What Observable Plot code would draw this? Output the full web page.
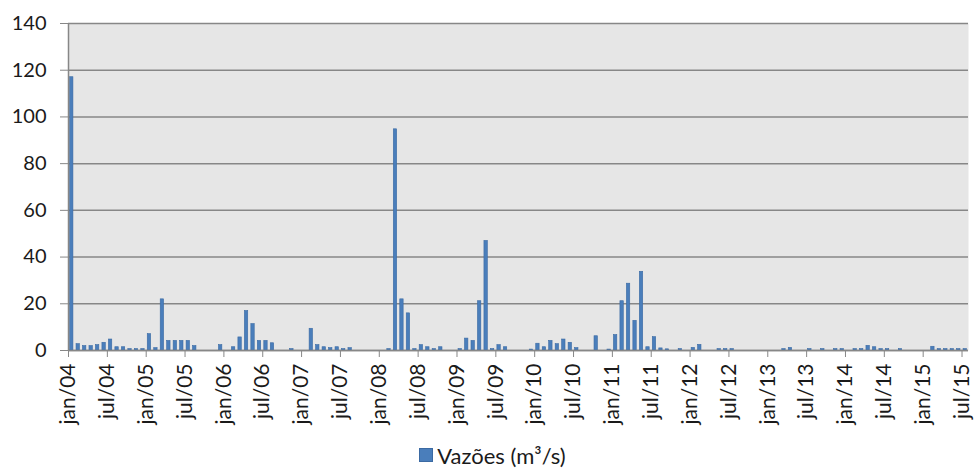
<!DOCTYPE html>
<html>
<head>
<meta charset="utf-8">
<script src="https://cdn.jsdelivr.net/npm/d3@7"></script>
<script src="https://cdn.jsdelivr.net/npm/@observablehq/plot@0.6"></script>
<style>
  body { margin: 0; background: #fff; font-family: Lato, "Open Sans", sans-serif; }
  #chart svg { display: block; }
  #legend { height: 30px; display: flex; justify-content: center; align-items: center; font-size: 22px; color: #1a1a1a; padding-left: 6px; }
  #legend .sw { width: 12px; height: 12px; background: #4a7ebb; border: 1px solid #3b6aa3; margin-right: 4px; }
</style>
</head>
<body>
<div id="chart"></div>
<div id="legend"><span class="sw"></span><span id="legtext"></span></div>
<script>
// Monthly flow, jan/2004 .. jul/2015 (one value per month)
const values = [
  117, 2.7, 1.9, 1.9, 2.3, 3.3, 4.7, 1.4, 1.4, 0.6, 0.6, 0.6,      // 2004
  7.0, 1.0, 21.9, 4.1, 4.1, 4.1, 4.1, 1.9, 0, 0, 0, 2.3,           // 2005
  0, 1.4, 5.6, 16.9, 11.3, 4.1, 4.1, 3.1, 0, 0, 0.6, 0,            // 2006
  0, 9.3, 2.3, 1.4, 1.0, 1.4, 0.6, 1.0, 0, 0, 0, 0,                // 2007
  0, 0.6, 94.7, 21.9, 15.9, 0.6, 2.3, 1.4, 0.6, 1.4, 0, 0,         // 2008
  0.6, 5.1, 4.1, 21.1, 46.9, 0.6, 2.3, 1.4, 0, 0, 0, 0.4,          // 2009
  2.9, 1.4, 4.1, 2.7, 4.7, 3.3, 1.0, 0, 0, 6.1, 0, 0.4,            // 2010
  6.6, 21.1, 28.6, 12.7, 33.7, 1.4, 5.7, 0.9, 0.5, 0, 0.6, 0,      // 2011
  1.1, 2.4, 0, 0, 0.6, 0.6, 0.6, 0, 0, 0, 0, 0,                    // 2012
  0, 0, 0.6, 1.1, 0, 0, 0.6, 0, 0.6, 0, 0.6, 0.6,                  // 2013
  0, 0.6, 0.6, 2.0, 1.4, 0.6, 0.6, 0, 0.6, 0, 0, 0,                // 2014
  0, 1.6, 0.6, 0.6, 0.6, 0.6, 0.6                                  // 2015
];
const tickLabels = [
  "jan/04","jul/04","jan/05","jul/05","jan/06","jul/06","jan/07","jul/07",
  "jan/08","jul/08","jan/09","jul/09","jan/10","jul/10","jan/11","jul/11",
  "jan/12","jul/12","jan/13","jul/13","jan/14","jul/14","jan/15","jul/15"
];
const yTicks = [0, 20, 40, 60, 80, 100, 120, 140];
const seriesName = "Vazões (m³/s)";

const data = values.map((v, i) => ({i, v})).filter(d => d.v > 0);
const xTicks = tickLabels.map((_, k) => k * 6);

const chart = Plot.plot({
  width: 979,
  height: 440,
  marginTop: 23,
  marginBottom: 90,
  marginLeft: 68,
  marginRight: 11,
  style: { fontFamily: "Lato, 'Open Sans', sans-serif", fontSize: "20px", color: "#1a1a1a", background: "#fff" },
  x: { type: "linear", domain: [0, values.length], axis: null },
  y: { domain: [0, 140], axis: null },
  marks: [
    Plot.frame({ fill: "#e6e6e6", stroke: "none" }),
    Plot.gridY(yTicks, { stroke: "#878787", strokeOpacity: 1, strokeWidth: 1.5 }),
    Plot.rect(data, {
      x1: d => d.i + 0.24, x2: d => d.i + 0.76, y1: 0, y2: "v",
      fill: "#4a7ebb", stroke: "#3b6aa3", strokeWidth: 0.6
    }),
    Plot.ruleX([0], { stroke: "#878787", strokeWidth: 1.5 }),
    Plot.ruleY([0], { stroke: "#878787", strokeWidth: 1.5 }),
    Plot.axisY(yTicks, { label: null, tickSize: 8, tickPadding: 14, stroke: "#878787", fill: "#1a1a1a", fontSize: 20 }),
    Plot.axisX(xTicks, {
      label: null,
      tickFormat: d => tickLabels[d / 6], tickRotate: -90,
      tickSize: 7, tickPadding: 6, stroke: "#878787", fill: "#1a1a1a", fontSize: 21
    })
  ]
});
document.getElementById("chart").append(chart);
document.getElementById("legtext").textContent = seriesName;
</script>
</body>
</html>
